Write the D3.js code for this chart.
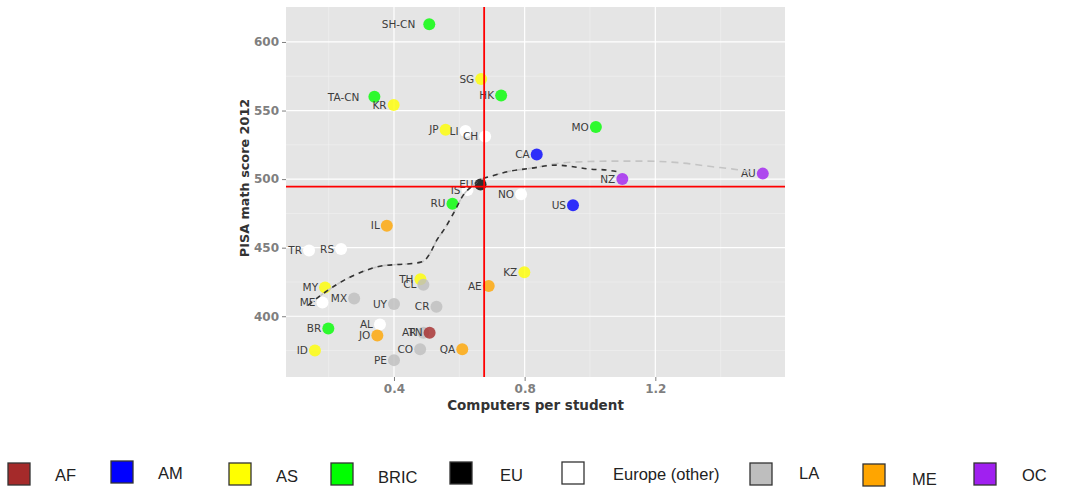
<!DOCTYPE html>
<html>
<head>
<meta charset="utf-8">
<script src="https://cdn.jsdelivr.net/npm/d3@7"></script>
<style>
  body { margin: 0; background: #fff; }
  svg { display: block; }
</style>
</head>
<body>
<div id="chart"></div>
<script>
// country codes, region group, computers per student, PISA 2012 math score
const countries = ['SH-CN', 'SG', 'HK', 'TA-CN', 'KR', 'JP', 'LI', 'CH', 'MO', 'CA', 'NZ', 'AU',
    'EU', 'IS', 'NO', 'US', 'RU', 'IL', 'TR', 'RS', 'KZ', 'TH', 'CL', 'AE', 'MY', 'ME', 'MX',
    'UY', 'CR', 'AL', 'BR', 'JO', 'AR', 'TN', 'CO', 'QA', 'ID', 'PE'];
const regions = ['BRIC', 'AS', 'BRIC', 'BRIC', 'AS', 'AS', 'Europe (other)', 'Europe (other)', 'BRIC', 'AM', 'OC', 'OC',
    'EU', 'Europe (other)', 'Europe (other)', 'AM', 'BRIC', 'ME', 'Europe (other)', 'Europe (other)', 'AS', 'AS', 'LA', 'ME', 'AS', 'Europe (other)', 'LA',
    'LA', 'LA', 'Europe (other)', 'BRIC', 'ME', 'LA', 'AF', 'LA', 'ME', 'AS', 'LA'];
const computers = [0.508, 0.667, 0.728, 0.340, 0.399, 0.558, 0.619, 0.679, 1.018, 0.837, 1.099, 1.529,
    0.665, 0.625, 0.789, 0.948, 0.579, 0.378, 0.140, 0.238, 0.799, 0.481, 0.490, 0.690, 0.189, 0.181, 0.278,
    0.400, 0.530, 0.357, 0.199, 0.349, 0.490, 0.509, 0.480, 0.609, 0.158, 0.400];
const mathScore = [613, 573, 561, 560, 554, 536, 535, 531, 538, 518, 500, 504,
    496, 492, 489, 481, 482, 466, 448, 449, 432, 427, 423, 422, 421, 410, 413,
    409, 407, 394, 391, 386, 388, 388, 376, 376, 375, 368];

// reference lines (OECD averages)
const meanComputers = 0.676;
const meanMath = 494.5;

// dashed smoothing paths
const darkPathX = [0.137, 0.189, 0.265, 0.316, 0.357, 0.408, 0.458, 0.490, 0.510, 0.531, 0.556, 0.582, 0.612, 0.639, 0.663, 0.699, 0.755, 0.816, 0.898, 0.949, 1.000, 1.051, 1.087];
const darkPathY = [408.0, 417.5, 428.5, 433.6, 436.5, 437.7, 438.5, 440.1, 445.8, 455.5, 464.2, 475.0, 488.3, 494.9, 499.3, 502.2, 505.8, 507.8, 510.2, 509.0, 507.3, 506.6, 505.3];
const greyPathX = [0.137, 0.189, 0.265, 0.316, 0.357, 0.408, 0.458, 0.490, 0.510, 0.531, 0.556, 0.582, 0.612, 0.639, 0.663, 0.699, 0.755, 0.816, 0.917, 0.969, 1.070, 1.174, 1.275, 1.376, 1.438, 1.496];
const greyPathY = [408.0, 417.5, 428.5, 433.6, 436.5, 437.7, 438.5, 440.1, 445.8, 455.5, 464.2, 475.0, 488.3, 494.9, 499.3, 502.2, 505.8, 507.8, 511.9, 512.6, 513.1, 513.1, 511.9, 509.0, 507.3, 505.1];

const legendNames = ['AF', 'AM', 'AS', 'BRIC', 'EU', 'Europe (other)', 'LA', 'ME', 'OC'];
const legendColors = ['#a52a2a', '#0000ff', '#ffff00', '#00ff00', '#000000', '#ffffff', '#bebebe', '#ffa500', '#a020f0'];

const xTicks = [0.4, 0.8, 1.2];
const xMinor = [0.2, 0.6, 1.0, 1.4];
const yTicks = [400, 450, 500, 550, 600];
const yMinor = [375, 425, 475, 525, 575];

// layout
const width = 1065, height = 489;
const panel = { left: 286, right: 785, top: 7, bottom: 377 };
const labelNudge = { 'SH-CN': -14, 'TA-CN': -15 };
const legendLayout = [
    { x: 8, sy: 463, ty: 475 }, { x: 111, sy: 461, ty: 473 }, { x: 229, sy: 463, ty: 476 },
    { x: 331, sy: 463, ty: 477 }, { x: 450, sy: 462, ty: 475 }, { x: 562, sy: 462, ty: 474 },
    { x: 750, sy: 463, ty: 473 }, { x: 863, sy: 464, ty: 479 }, { x: 974, sy: 463, ty: 475 }
];
const legendTextX = [55, 158, 276, 378, 500, 613, 799, 912, 1022];

const color = d3.scaleOrdinal().domain(legendNames).range(legendColors);

const x = d3.scaleLinear().domain([0.0694, 1.597]).range([panel.left, panel.right]);
const y = d3.scaleLinear().domain([355.7, 625.5]).range([panel.bottom, panel.top]);

const svg = d3.select('#chart').append('svg')
    .attr('width', width)
    .attr('height', height);

svg.append('rect').attr('width', width).attr('height', height).attr('fill', '#fff');

svg.append('rect')
    .attr('x', panel.left).attr('y', panel.top)
    .attr('width', panel.right - panel.left).attr('height', panel.bottom - panel.top)
    .attr('fill', '#e5e5e5');

const grid = svg.append('g');
grid.selectAll('.xminor').data(xMinor).enter().append('line')
    .attr('x1', d => x(d)).attr('x2', d => x(d))
    .attr('y1', panel.top).attr('y2', panel.bottom)
    .attr('stroke', '#f2f2f2').attr('stroke-width', 0.6);
grid.selectAll('.yminor').data(yMinor).enter().append('line')
    .attr('y1', d => y(d)).attr('y2', d => y(d))
    .attr('x1', panel.left).attr('x2', panel.right)
    .attr('stroke', '#f2f2f2').attr('stroke-width', 0.6);
grid.selectAll('.xmajor').data(xTicks).enter().append('line')
    .attr('x1', d => x(d)).attr('x2', d => x(d))
    .attr('y1', panel.top).attr('y2', panel.bottom)
    .attr('stroke', '#fff').attr('stroke-width', 1.2);
grid.selectAll('.ymajor').data(yTicks).enter().append('line')
    .attr('y1', d => y(d)).attr('y2', d => y(d))
    .attr('x1', panel.left).attr('x2', panel.right)
    .attr('stroke', '#fff').attr('stroke-width', 1.2);

// axes
const xAxis = svg.append('g')
    .attr('transform', `translate(0,${panel.bottom})`)
    .call(d3.axisBottom(x).tickValues(xTicks).tickSize(4).tickPadding(3).tickFormat(d3.format('.1f')));
const yAxis = svg.append('g')
    .attr('transform', `translate(${panel.left},0)`)
    .call(d3.axisLeft(y).tickValues(yTicks).tickSize(4).tickPadding(3));
[xAxis, yAxis].forEach(a => {
    a.select('.domain').remove();
    a.selectAll('line').attr('stroke', '#7f7f7f');
    a.selectAll('text')
        .attr('fill', '#7f7f7f')
        .style('font-family', 'DejaVu Sans, Verdana, sans-serif')
        .style('font-weight', 'bold')
        .style('font-size', '12px');
});

svg.append('text')
    .attr('x', (panel.left + panel.right) / 2)
    .attr('y', 410)
    .attr('text-anchor', 'middle')
    .attr('fill', '#333')
    .style('font-family', 'DejaVu Sans, Verdana, sans-serif')
    .style('font-weight', 'bold')
    .style('font-size', '13.5px')
    .text('Computers per student');

svg.append('text')
    .attr('transform', `translate(249,${(panel.top + panel.bottom) / 2 - 14}) rotate(-90)`)
    .attr('text-anchor', 'middle')
    .attr('fill', '#333')
    .style('font-family', 'DejaVu Sans, Verdana, sans-serif')
    .style('font-weight', 'bold')
    .style('font-size', '12.8px')
    .text('PISA math score 2012');

// points
const points = countries.map((c, i) => ({ code: c, region: regions[i], cx: computers[i], my: mathScore[i] }));

const pts = svg.append('g');
pts.selectAll('circle').data(points).enter().append('circle')
    .attr('cx', d => x(d.cx))
    .attr('cy', d => y(d.my))
    .attr('r', 6)
    .attr('fill', d => color(d.region))
    .attr('fill-opacity', d => d.region === 'Europe (other)' ? 1 : 0.8);

pts.selectAll('text').data(points).enter().append('text')
    .attr('x', d => x(d.cx) + (labelNudge[d.code] || -7))
    .attr('y', d => y(d.my))
    .attr('dy', '0.35em')
    .attr('text-anchor', 'end')
    .attr('fill', '#3c3c3c')
    .style('font-family', 'DejaVu Sans, sans-serif')
    .style('font-size', '10.5px')
    .text(d => d.code);

// dashed smoothing lines
const line = d3.line()
    .x(d => x(d[0]))
    .y(d => y(d[1]))
    .curve(d3.curveMonotoneX);

svg.append('path')
    .datum(greyPathX.map((v, i) => [v, greyPathY[i]]))
    .attr('d', line)
    .attr('fill', 'none')
    .attr('stroke', '#c4c4c4')
    .attr('stroke-width', 1.6)
    .attr('stroke-dasharray', '7,5');

svg.append('path')
    .datum(darkPathX.map((v, i) => [v, darkPathY[i]]))
    .attr('d', line)
    .attr('fill', 'none')
    .attr('stroke', '#333')
    .attr('stroke-width', 1.6)
    .attr('stroke-dasharray', '5,5');

// red reference lines
svg.append('line')
    .attr('x1', x(meanComputers)).attr('x2', x(meanComputers))
    .attr('y1', panel.top).attr('y2', panel.bottom)
    .attr('stroke', '#ff0000').attr('stroke-width', 1.8);
svg.append('line')
    .attr('x1', panel.left).attr('x2', panel.right)
    .attr('y1', y(meanMath)).attr('y2', y(meanMath))
    .attr('stroke', '#ff0000').attr('stroke-width', 1.8);

// legend
const legend = svg.append('g');
legendNames.forEach((name, i) => {
    const L = legendLayout[i];
    legend.append('rect')
        .attr('x', L.x).attr('y', L.sy)
        .attr('width', 22).attr('height', 22)
        .attr('fill', color(name))
        .attr('stroke', '#333').attr('stroke-width', 1.3);
    legend.append('text')
        .attr('x', legendTextX[i])
        .attr('y', L.ty)
        .attr('dy', '0.35em')
        .attr('fill', '#222')
        .style('font-family', 'Liberation Sans, Arial, sans-serif')
        .style('font-size', '16.5px')
        .text(name);
});
</script>
</body>
</html>
